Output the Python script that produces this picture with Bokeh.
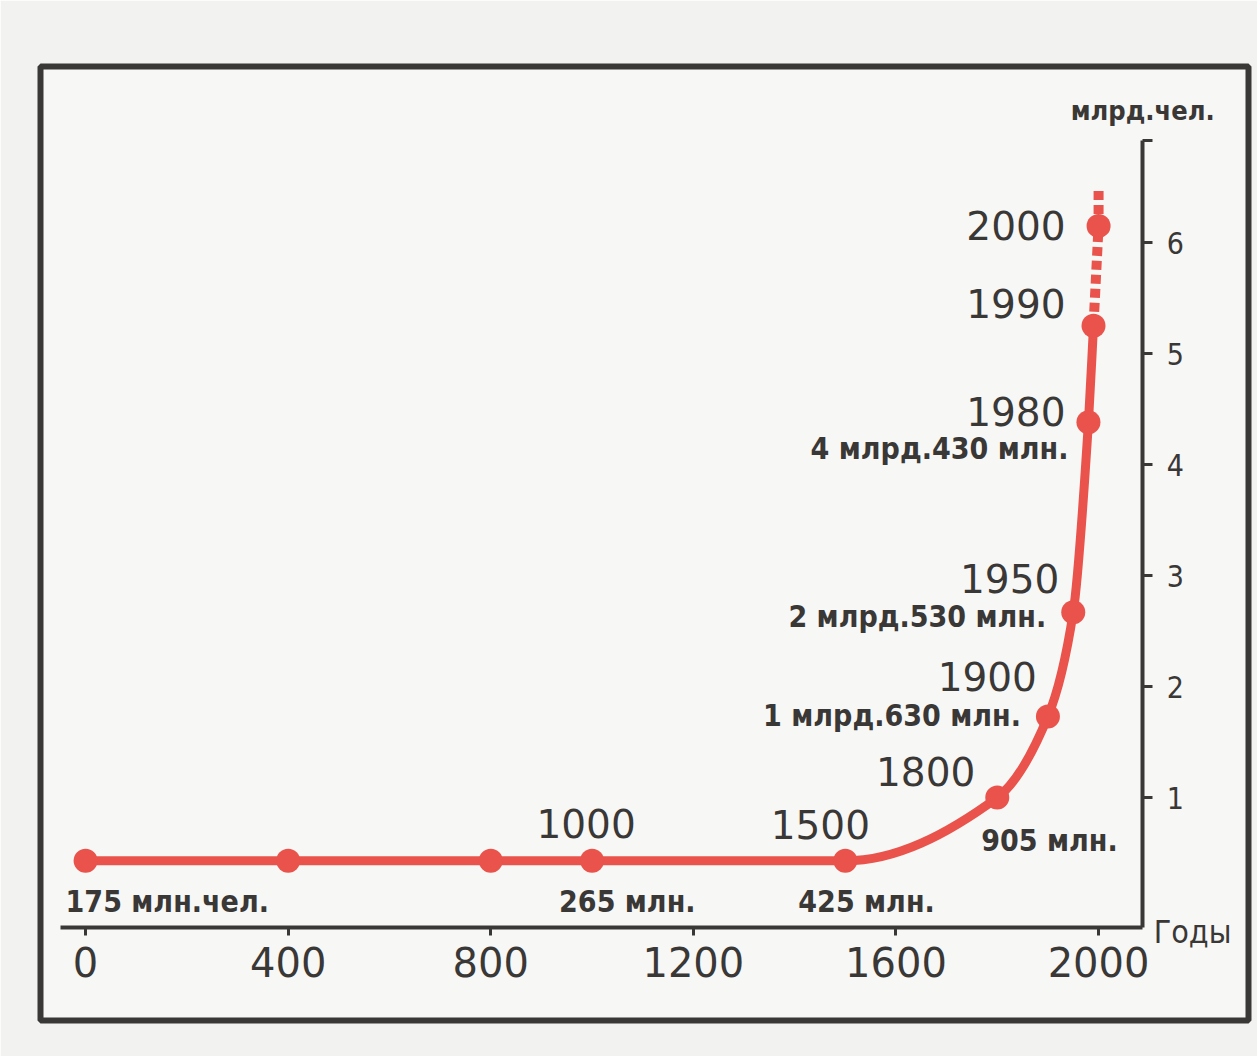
from bokeh.plotting import figure
from bokeh.models import Range1d, LinearAxis, FixedTicker, ColumnDataSource
from bokeh.core.properties import value
from bokeh.embed import file_html
from bokeh.resources import INLINE

# ---- data ----
years = [0, 400, 800, 1000, 1500, 1800, 1900, 1950, 1980, 1990, 2000]
population_bn = [0.43, 0.43, 0.43, 0.43, 0.43, 1.00, 1.73, 2.67, 4.38, 5.25, 6.15]
year_labels = ["", "", "", "1000", "1500", "1800", "1900", "1950", "1980", "1990", "2000"]
pop_labels = ["175 млн.чел.", "", "", "265 млн.", "425 млн.", "905 млн.",
              "1 млрд.630 млн.", "2 млрд.530 млн.", "4 млрд.430 млн.", "", ""]
projection_years = [1990, 2000, 2000]
projection_bn = [5.25, 6.15, 6.50]
x_ticks = [0, 400, 800, 1200, 1600, 2000]
y_ticks = [1, 2, 3, 4, 5, 6]
x_unit = "Годы"
y_unit = "млрд.чел."

# ---- label styling (offsets in screen px) ----
year_align = ["center"] * 5 + ["right"] * 6
year_dx = [0, 0, 0, -6, -25, -22, -11, -14, -23, -28, -33]
year_dy = [0, 0, 0, -37, -36, -26, -40, -34, -11, -22, 0]
pop_align = ["left"] * 6 + ["right"] * 5
pop_dx = [-20, 0, 0, -33, -47, -16, -27, -27, -20, 0, 0]
pop_dy = [41, 0, 0, 41, 41, 43, -1, 4, 26, 0, 0]

RED = "#e9534b"
INK = "#3a3836"
FONT_NUM = "DejaVu Sans"
FONT_LAB = "DejaVu Sans Condensed"

# axis placement (data units)
x_axis_at = -0.17
y_axis_at = 2087
y_axis_top = 6.92


def smooth_segments(xs, ys):
    """Monotone cubic (Fritsch-Carlson) Bezier control points between data points."""
    n = len(xs)
    h = [xs[i + 1] - xs[i] for i in range(n - 1)]
    d = [(ys[i + 1] - ys[i]) / h[i] for i in range(n - 1)]
    m = [0.0] * n
    m[0], m[-1] = d[0], d[-1]
    for k in range(1, n - 1):
        if d[k - 1] * d[k] <= 0:
            m[k] = 0.0
        else:
            w1 = 2 * h[k] + h[k - 1]
            w2 = h[k] + 2 * h[k - 1]
            m[k] = (w1 + w2) / (w1 / d[k - 1] + w2 / d[k])
    seg = dict(x0=[], y0=[], x1=[], y1=[], cx0=[], cy0=[], cx1=[], cy1=[])
    for i in range(n - 1):
        seg["x0"].append(xs[i]); seg["y0"].append(ys[i])
        seg["x1"].append(xs[i + 1]); seg["y1"].append(ys[i + 1])
        seg["cx0"].append(xs[i] + h[i] / 3); seg["cy0"].append(ys[i] + m[i] * h[i] / 3)
        seg["cx1"].append(xs[i + 1] - h[i] / 3); seg["cy1"].append(ys[i + 1] - m[i + 1] * h[i] / 3)
    return seg


p = figure(width=1257, height=1056, output_backend="svg", toolbar_location=None,
           x_range=Range1d(-89, 2296), y_range=Range1d(-1.009, 7.586),
           x_axis_location=None, y_axis_location=None,
           min_border_left=40, min_border_top=66, min_border_right=9, min_border_bottom=36)
p.grid.visible = False
p.background_fill_color = "#f7f7f5"
p.border_fill_color = "#f2f2f0"
p.outline_line_color = INK
p.outline_line_width = 6

# x axis drawn inside the frame
xa = LinearAxis(fixed_location=x_axis_at, bounds=(-50, y_axis_at),
                ticker=FixedTicker(ticks=x_ticks))
xa.axis_line_color = INK
xa.axis_line_width = 4
xa.major_tick_line_color = INK
xa.major_tick_line_width = 3
xa.major_tick_in = 0
xa.major_tick_out = 8
xa.minor_tick_line_color = None
xa.major_label_standoff = 12
xa.major_label_text_font = FONT_NUM
xa.major_label_text_font_size = "40px"
xa.major_label_text_color = INK
p.add_layout(xa, "below")

# y axis on the right, inside the frame
ya = LinearAxis(fixed_location=y_axis_at, bounds=(x_axis_at, y_axis_top),
                ticker=FixedTicker(ticks=y_ticks + [y_axis_top]),
                major_label_overrides={y_axis_top: ""})
ya.axis_line_color = INK
ya.axis_line_width = 4
ya.major_tick_line_color = INK
ya.major_tick_line_width = 3
ya.major_tick_in = 0
ya.major_tick_out = 10
ya.minor_tick_line_color = None
ya.major_label_standoff = 14
ya.major_label_text_font = FONT_LAB
ya.major_label_text_font_size = "30px"
ya.major_label_text_color = INK
p.add_layout(ya, "right")

src = ColumnDataSource(dict(x=years, y=population_bn, yl=year_labels, pl=pop_labels,
                            ya=year_align, ydx=year_dx, ydy=year_dy,
                            pa=pop_align, pdx=pop_dx, pdy=pop_dy))

# projected (dashed) part
p.line(projection_years, projection_bn, line_color=RED, line_width=10, line_dash="9 5")
# solid smooth curve up to 1990
curve = ColumnDataSource(smooth_segments(years[:-1], population_bn[:-1]))
p.bezier(x0="x0", y0="y0", x1="x1", y1="y1", cx0="cx0", cy0="cy0", cx1="cx1", cy1="cy1",
         source=curve, line_color=RED, line_width=9)
p.scatter("x", "y", source=src, size=24, fill_color=RED, line_color=None)

p.text("x", "y", text="yl", source=src, text_align="ya", text_baseline="alphabetic",
       x_offset="ydx", y_offset="ydy", text_font=value(FONT_NUM),
       text_font_size="39px", text_color=INK)
p.text("x", "y", text="pl", source=src, text_align="pa", text_baseline="alphabetic",
       x_offset="pdx", y_offset="pdy", text_font=value(FONT_LAB), text_font_style="bold",
       text_font_size="30px", text_color=INK)

# unit labels at the axis ends
p.text([y_axis_at], [y_axis_top], text=[y_unit], text_align="left", text_baseline="alphabetic",
       x_offset=-72, y_offset=-30, text_font=value(FONT_LAB), text_font_style="bold",
       text_font_size="27px", text_color=INK)
p.text([y_axis_at], [x_axis_at], text=[x_unit], text_align="left", text_baseline="alphabetic",
       x_offset=11, y_offset=5, text_font=value(FONT_LAB),
       text_font_size="32px", text_color=INK)

open("out.html", "w").write(file_html(p, INLINE))
